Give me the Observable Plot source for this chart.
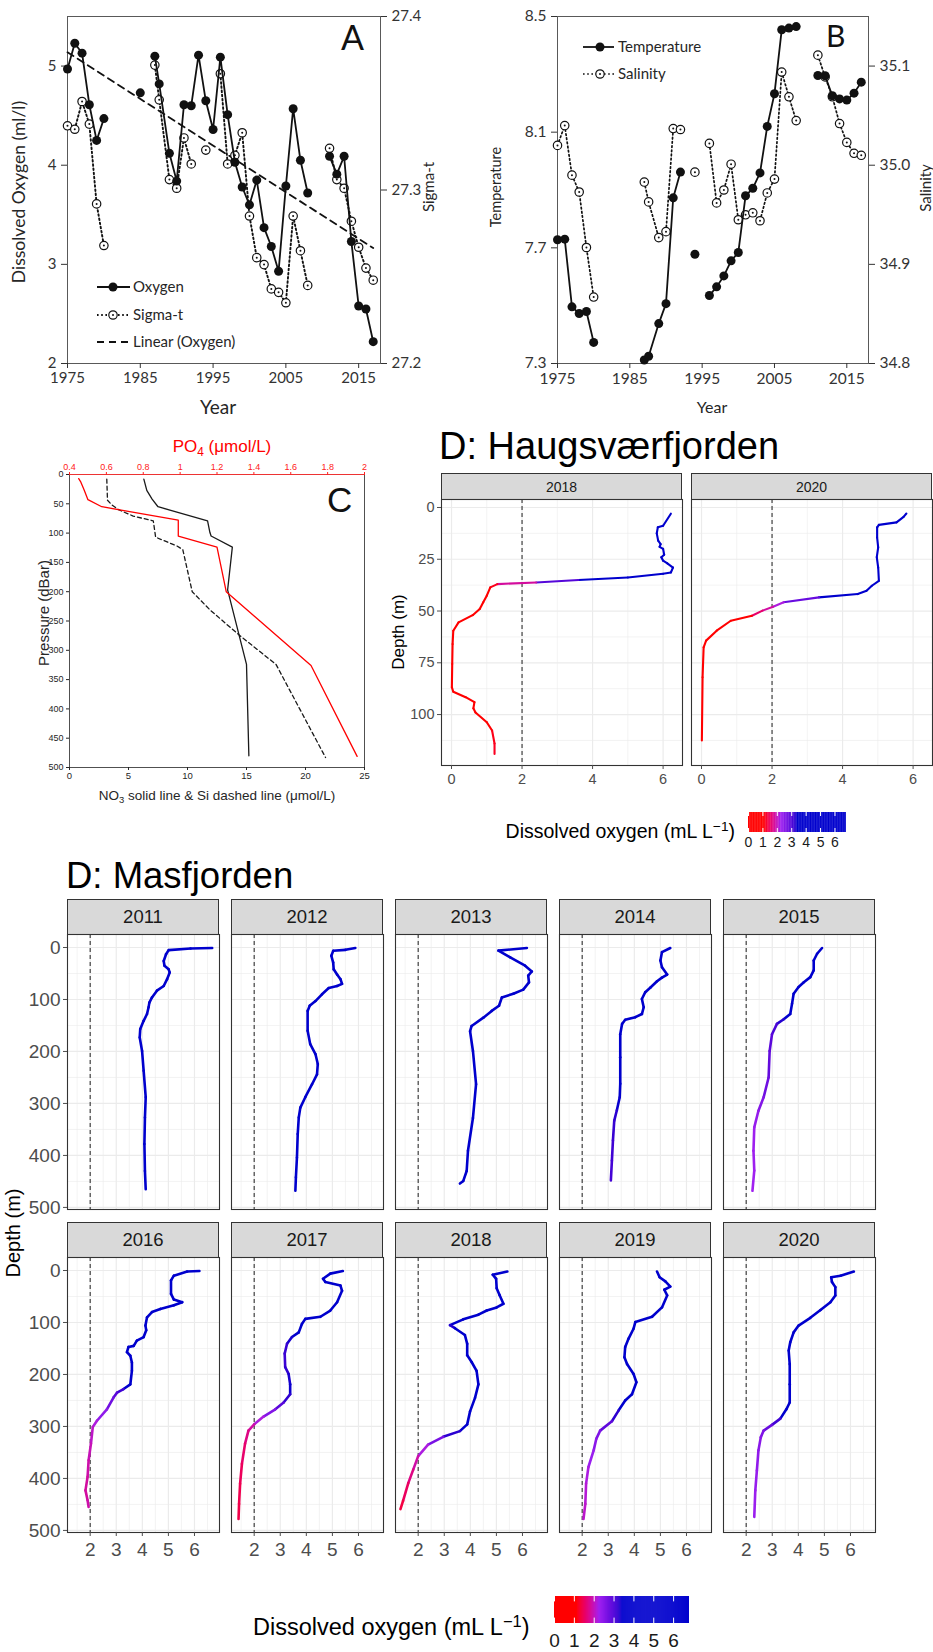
<!DOCTYPE html>
<html><head><meta charset="utf-8">
<script src="https://cdn.jsdelivr.net/npm/d3@7"></script>
<script src="https://cdn.jsdelivr.net/npm/@observablehq/plot@0.6"></script>
<style>
html,body{margin:0;padding:0;background:#fff;}
#page{position:relative;width:933px;height:1652px;overflow:hidden;background:#fff;}
.abs{position:absolute;}
.strip{position:absolute;box-sizing:border-box;background:#d9d9d9;border:1.1px solid #333;font-family:"Liberation Sans",Arial,sans-serif;color:#1a1a1a;display:flex;align-items:center;justify-content:center;}
</style></head>
<body><div id="page"></div>
<script>
// ---------------- DATA ----------------
// Panel A / B : yearly series (null = no observation)
const years = [1975,1976,1977,1978,1979,1980,1981,1982,1983,1984,1985,1986,1987,1987.6,1989,1990,1991,1992,1993,1994,1995,1996,1997,1998,1999,2000,2001,2002,2003,2004,2005,2006,2007,2008,2009,2010,2011,2012,2013,2014,2015,2016,2017];
const oxygen = [4.97,5.23,5.13,4.61,4.25,4.47,null,null,null,null,4.73,null,5.10,4.82,4.12,3.84,4.61,4.60,5.11,4.65,4.36,5.09,4.51,4.03,3.78,3.60,3.85,3.37,3.18,2.93,3.79,4.57,4.05,3.72,null,null,4.09,3.91,4.09,3.23,2.58,2.55,2.22];
const sigmaT = [27.337,27.335,27.351,27.338,27.292,27.268,null,null,null,null,null,null,27.372,27.352,27.306,27.301,27.330,27.315,null,27.323,null,27.367,27.315,27.320,27.333,27.285,27.261,27.257,27.243,27.241,27.235,27.285,27.265,27.245,null,null,27.324,27.306,27.301,27.282,27.267,27.255,27.248];
const temperature = [7.728,7.730,7.496,7.473,7.480,7.373,null,null,null,null,null,null,7.312,7.325,7.438,7.507,7.873,7.962,null,7.678,null,7.535,7.565,7.603,7.655,7.684,7.880,7.906,7.959,8.120,8.233,8.454,8.460,8.465,null,null,8.296,8.295,8.226,8.215,8.211,8.235,8.273];
const salinity = [35.020,35.040,34.990,34.973,34.917,34.867,null,null,null,null,null,null,34.983,34.963,34.927,34.933,35.037,35.036,null,34.993,null,35.022,34.962,34.975,35.001,34.945,34.950,34.952,34.944,34.972,34.986,35.094,35.069,35.045,null,null,35.111,35.089,35.069,35.042,35.023,35.012,35.010];
const yearTicks = [1975,1985,1995,2005,2015];
const oxyTicks = [2,3,4,5];
const sigmaTicks = [27.2,27.3,27.4];
const tempTicks = [7.3,7.7,8.1,8.5];
const salTicks = [34.8,34.9,35.0,35.1];

// Panel C : nutrient profiles
const no3Depth = [8,27,42,55,79,99,105,124,197,324,480];
const no3 = [6.3,6.55,7.0,7.5,11.7,11.9,12.0,13.8,13.4,15.0,15.2];
const siDepth = [8,44,52,60,71,79,107,122,128,200,231,276,324,483];
const si = [3.16,3.22,3.6,4.15,5.4,7.1,7.3,9.1,9.6,10.4,11.9,14.5,17.5,21.7];
const po4Depth = [7,12,27,43,55,78,105,124,200,326,481];
const po4 = [0.45,0.46,0.48,0.50,0.575,0.99,0.99,1.20,1.25,1.71,1.96];
const pressureTicks = [0,50,100,150,200,250,300,350,400,450,500];
const no3Ticks = [0,5,10,15,20,25];
const po4Ticks = [0.4,0.6,0.8,1,1.2,1.4,1.6,1.8,2];

// Panel D : dissolved oxygen profiles (mL/L) and depths (m)
const hau2018_o = [6.22,6.0,5.85,5.82,5.86,5.93,5.9,6.0,6.03,5.95,6.0,6.12,6.28,6.22,6.0,5.0,3.6,2.4,1.3,1.1,1.0,0.9,0.8,0.6,0.2,0.05,0.03,0.02,0.01,0.05,0.4,0.65,0.62,0.68,1.0,1.15,1.22,1.22];
const hau2018_d = [3,8.8,9.6,12.5,16,17.7,19,20,22.8,24,25.7,27,29,31.4,32,33.8,35,36.2,37,38.6,42.6,45.8,49,52,55.5,59.5,66,75.6,86.8,89,91.6,94,97,99,103.7,107.7,114,119];
const hau2020_o = [5.81,5.73,5.53,5.03,4.98,4.98,5.01,4.97,5.01,5.03,4.83,4.68,4.43,3.33,2.33,2.03,1.73,1.43,0.83,0.43,0.13,0.06,0.03,0.01];
const hau2020_d = [2.9,4.5,7.2,8.4,9.6,14.5,19.3,24,29,35.4,37.8,40.2,41.8,43.4,45.8,47.9,49.8,52.3,54.7,59.5,64.3,67.5,82,112.5];

const mas2011_o = [6.68,5.85,5.01,4.91,4.82,4.85,5.01,5.05,4.95,4.82,4.56,4.37,4.27,4.24,4.18,4.05,3.92,3.90,3.99,4.05,4.13,4.10,4.08,4.10,4.13];
const mas2011_d = [1,2,5,13,26,35,42,48,61,74,83,96,106,115,128,141,157,173,199,237,288,327,378,430,465];
const mas2012_o = [5.88,5.50,5.03,4.96,5.03,5.05,5.18,5.31,5.37,5.18,4.86,4.60,4.35,4.13,4.05,4.05,4.15,4.35,4.44,4.41,4.22,3.96,3.77,3.71,3.67,3.64,3.60,3.58];
const mas2012_d = [1,4.5,6.4,16,29,42,52,61,70,74,78,90,103,112,122,160,186,205,224,244,263,288,308,327,359,404,442,468];
const mas2013_o = [6.17,5.08,5.53,6.10,6.36,6.22,6.25,6.03,5.65,5.21,5.10,4.82,4.50,4.05,3.99,4.10,4.22,4.10,3.91,3.86,3.73,3.60];
const mas2013_d = [1,6,19,35,46,54,67,81,89,96,112,122,135,151,161,199,263,328,391,430,449,454];
const mas2014_o = [5.38,5.06,5.00,5.06,5.26,5.06,4.87,4.62,4.42,4.29,4.36,4.29,4.04,3.65,3.53,3.46,3.46,3.46,3.44,3.33,3.23,3.18,3.14,3.10];
const mas2014_d = [1,9,25,38,52,58,65,77,86,99,115,128,134,139,147,167,211,262,288,313,333,371,410,448];
const mas2015_o = [4.91,4.72,4.59,4.59,4.46,4.21,4.01,3.82,3.76,3.69,3.44,3.18,2.99,2.90,2.86,2.67,2.47,2.31,2.28,2.31,2.24];
const mas2015_d = [1,12,25,44,57,67,76,89,108,128,138,147,167,199,250,288,314,346,391,429,468];
const mas2016_o = [6.19,5.72,5.21,5.10,5.10,5.21,5.53,5.21,4.69,4.37,4.18,4.12,4.15,4.05,3.79,3.67,3.47,3.41,3.54,3.60,3.60,3.54,3.28,3.03,2.90,2.64,2.26,2.10,2.03,1.94,1.90,1.82,1.90,1.94];
const mas2016_d = [1,2,10,19,45,56,61,67,74,80,90,106,115,128,135,145,147,157,164,177,193,219,228,235,244,267,289,301,333,365,397,423,442,455];
const mas2017_o = [5.40,4.92,4.64,4.73,5.31,5.37,5.18,4.92,4.54,3.96,3.83,3.71,3.45,3.26,3.17,3.19,3.32,3.38,3.38,3.13,2.81,2.36,2.00,1.78,1.65,1.53,1.46,1.42,1.40];
const mas2017_d = [1,6,16,22,29,39,61,77,89,93,103,119,128,141,160,186,199,219,238,254,267,281,296,308,333,372,410,449,478];
const mas2018_o = [5.42,4.86,4.99,5.01,5.12,5.27,5.01,4.63,4.31,3.73,3.22,3.41,3.79,3.88,3.88,4.05,4.24,4.31,4.18,3.99,3.88,3.60,2.96,2.38,2.00,1.81,1.62,1.42,1.32];
const mas2018_d = [2,8,16,34,47,64,71,77,85,94,105,111,124,141,163,176,193,219,245,271,296,309,320,335,357,383,409,443,459];
const mas2019_o = [4.87,4.97,5.19,5.38,5.15,5.26,5.06,4.68,4.04,3.97,3.78,3.65,3.62,3.72,3.97,4.08,3.91,3.65,3.40,3.14,2.69,2.54,2.44,2.24,2.15,2.12,2.05];
const mas2019_d = [2,13,21,31,37,48,71,89,99,112,131,147,167,180,199,215,238,250,269,290,308,324,346,378,410,449,478];
const mas2020_o = [6.13,5.62,5.26,5.29,5.42,5.42,5.23,4.85,4.46,4.01,3.82,3.69,3.63,3.67,3.67,3.67,3.54,3.31,2.99,2.67,2.56,2.47,2.41,2.35,2.31];
const mas2020_d = [2,10,13,22,32,48,61,76,91,106,119,138,154,180,219,254,267,285,297,308,321,346,385,423,474];

const masYears = ["2011","2012","2013","2014","2015","2016","2017","2018","2019","2020"];
const masProfiles = [[mas2011_o,mas2011_d],[mas2012_o,mas2012_d],[mas2013_o,mas2013_d],[mas2014_o,mas2014_d],[mas2015_o,mas2015_d],[mas2016_o,mas2016_d],[mas2017_o,mas2017_d],[mas2018_o,mas2018_d],[mas2019_o,mas2019_d],[mas2020_o,mas2020_d]];
const hauYears = ["2018","2020"];
const hauProfiles = [[hau2018_o,hau2018_d],[hau2020_o,hau2020_d]];
const hypoxiaThreshold = [2];
const barTicks = [0,1,2,3,4,5,6];

// colour scale for dissolved oxygen
const oxyStops = [0, 1.13, 2.27, 3.4, 6.8];
const oxyColors = ["#ff0000", "#ff0000", "#a020f0", "#0000cd", "#0000cd"];
const colorScale = {type: "linear", domain: oxyStops, range: oxyColors, interpolate: "lab", clamp: true};

// ---------------- HELPERS ----------------
const page = document.getElementById("page");
const ARIAL = "'Liberation Sans', Arial, sans-serif";
const LATO = "Lato, 'Open Sans', sans-serif";
const STYLE = f => `background: transparent; overflow: visible; max-width: none; font-family: ${f};`;
function place(node, left, top) {
  node.style.maxWidth = "none";
  const d = document.createElement("div");
  d.className = "abs";
  d.style.left = left + "px"; d.style.top = top + "px";
  d.appendChild(node);
  page.appendChild(d);
}
const nz = v => (v == null ? NaN : v);

// ---------------- PANEL A ----------------
const rowsA = years.map((y, i) => ({year: y, oxy: oxygen[i], sig: sigmaT[i], temp: temperature[i], sal: salinity[i]}));
const sigToY = s => 2 + (s - 27.2) / 0.2 * 3.5;
const yToSig = v => 27.2 + (v - 2) / 3.5 * 0.2;
const axisCol = "#333";
place(Plot.plot({
  width: 460, height: 420, marginLeft: 67, marginRight: 80, marginTop: 16, marginBottom: 57,
  style: STYLE(LATO),
  x: {domain: [1975, 2018], axis: null},
  y: {domain: [2, 5.5], axis: null},
  marks: [
    Plot.frame({stroke: "#595959", strokeWidth: 1}),
    Plot.axisY(oxyTicks, {tickSize: 6, tickPadding: 5, fontSize: 15, color: axisCol, label: null, tickFormat: d => String(d)}),
    Plot.axisX(yearTicks, {tickSize: 5, tickPadding: 4, fontSize: 15, color: axisCol, label: null, tickFormat: d => String(d)}),
    Plot.axisY(sigmaTicks.map(sigToY), {anchor: "right", tickSize: 6, tickPadding: 5, fontSize: 15, color: axisCol, label: null, tickFormat: d => yToSig(d).toFixed(1)}),
    Plot.linearRegressionY(rowsA.filter(d => d.oxy != null), {x: "year", y: "oxy", stroke: "#111", strokeWidth: 1.8, strokeDasharray: "7,5", ci: 0}),
    Plot.line(rowsA, {x: "year", y: d => d.sig == null ? NaN : sigToY(d.sig), stroke: "#111", strokeWidth: 1.9, strokeDasharray: "1.6,2.6"}),
    Plot.dot(rowsA, {x: "year", y: d => d.sig == null ? NaN : sigToY(d.sig), r: 4.2, fill: "white", stroke: "#111", strokeWidth: 1.2}),
    Plot.dot(rowsA, {x: "year", y: d => d.sig == null ? NaN : sigToY(d.sig), r: 1, fill: "#111"}),
    Plot.line(rowsA, {x: "year", y: d => nz(d.oxy), stroke: "#111", strokeWidth: 1.8}),
    Plot.dot(rowsA, {x: "year", y: d => nz(d.oxy), r: 4.5, fill: "#111"})
  ]
}), 0, 0);

// ---------------- PANEL B ----------------
const salToY = s => 7.3 + (s - 34.8) / 0.35 * 1.2;
const yToSal = v => 34.8 + (v - 7.3) / 1.2 * 0.35;
place(Plot.plot({
  width: 473, height: 420, marginLeft: 97, marginRight: 65, marginTop: 16, marginBottom: 57,
  style: STYLE(LATO),
  x: {domain: [1975, 2018], axis: null},
  y: {domain: [7.3, 8.5], axis: null},
  marks: [
    Plot.frame({stroke: "#595959", strokeWidth: 1}),
    Plot.axisY(tempTicks, {tickSize: 6, tickPadding: 5, fontSize: 15.5, color: axisCol, label: null, tickFormat: d => d.toFixed(1)}),
    Plot.axisX(yearTicks, {tickSize: 5, tickPadding: 4, fontSize: 15.5, color: axisCol, label: null, tickFormat: d => String(d)}),
    Plot.axisY(salTicks.map(salToY), {anchor: "right", tickSize: 6, tickPadding: 5, fontSize: 15.5, color: axisCol, label: null, tickFormat: d => yToSal(d).toFixed(1)}),
    Plot.line(rowsA, {x: "year", y: d => d.sal == null ? NaN : salToY(d.sal), stroke: "#111", strokeWidth: 1.7, strokeDasharray: "1.6,2.6"}),
    Plot.dot(rowsA, {x: "year", y: d => d.sal == null ? NaN : salToY(d.sal), r: 4.2, fill: "white", stroke: "#111", strokeWidth: 1.2}),
    Plot.dot(rowsA, {x: "year", y: d => d.sal == null ? NaN : salToY(d.sal), r: 1, fill: "#111"}),
    Plot.line(rowsA, {x: "year", y: d => nz(d.temp), stroke: "#111", strokeWidth: 1.8}),
    Plot.dot(rowsA, {x: "year", y: d => nz(d.temp), r: 4.5, fill: "#111"})
  ]
}), 460, 0);

// ---------------- PANEL C ----------------
const poToX = p => (p - 0.4) / 1.6 * 25;
const xToPo = x => 0.4 + x / 25 * 1.6;
const no3Rows = no3.map((v, i) => ({v, p: no3Depth[i]}));
const siRows = si.map((v, i) => ({v, p: siDepth[i]}));
const po4Rows = po4.map((v, i) => ({v, p: po4Depth[i]}));
place(Plot.plot({
  width: 380, height: 400, marginLeft: 69, marginRight: 16, marginTop: 64, marginBottom: 43,
  style: STYLE(ARIAL),
  x: {domain: [0, 25], axis: null},
  y: {domain: [0, 500], reverse: true, axis: null},
  marks: [
    Plot.frame({stroke: "#262626", strokeWidth: 0.8}),
    Plot.ruleY([0], {stroke: "#ff3030", strokeWidth: 0.9}),
    Plot.axisY(pressureTicks, {tickSize: 3, tickPadding: 3, fontSize: 9, color: "#262626", label: null}),
    Plot.axisX(no3Ticks, {tickSize: 3, tickPadding: 2, fontSize: 9.5, color: "#262626", label: null}),
    Plot.axisX(po4Ticks.map(poToX), {anchor: "top", tickSize: 3, tickPadding: 2, fontSize: 9, color: "#ff2020", label: null, tickFormat: d => String(+xToPo(d).toFixed(1))}),
    Plot.line(siRows, {x: "v", y: "p", stroke: "#1a1a1a", strokeWidth: 1.3, strokeDasharray: "4,3"}),
    Plot.line(no3Rows, {x: "v", y: "p", stroke: "#1a1a1a", strokeWidth: 1.3}),
    Plot.line(po4Rows, {x: d => poToX(d.v), y: "p", stroke: "#ff0000", strokeWidth: 1.3})
  ]
}), 0, 410);

// ---------------- PROFILE PANELS ----------------
function profile(o, d, cfg) {
  const segs = [];
  for (let i = 0; i < o.length - 1; i++) segs.push({x1: o[i], y1: d[i], x2: o[i + 1], y2: d[i + 1], c: (o[i] + o[i + 1]) / 2});
  const mL = cfg.showY ? 70 : 1, mB = cfg.showX ? 40 : 1, mT = 1, mR = 1;
  const g = {stroke: "#ebebeb", strokeOpacity: 1};
  const marks = [
    Plot.gridX(cfg.xMinor, {...g, strokeWidth: 0.6}),
    Plot.gridY(cfg.yMinor, {...g, strokeWidth: 0.6}),
    Plot.gridX(cfg.xMajor, {...g, strokeWidth: 1.2}),
    Plot.gridY(cfg.yMajor, {...g, strokeWidth: 1.2}),
    Plot.ruleX(hypoxiaThreshold, {stroke: "#333", strokeWidth: 1.1, strokeDasharray: "4,3"}),
    Plot.link(segs, {x1: "x1", y1: "y1", x2: "x2", y2: "y2", stroke: "c", strokeWidth: cfg.lw, strokeLinecap: "round"}),
    Plot.frame({stroke: "#333", strokeWidth: 1.1})
  ];
  if (cfg.showY) marks.push(Plot.axisY(cfg.yMajor, {tickSize: 4, tickPadding: 3, fontSize: cfg.font, color: "#4d4d4d", label: null}));
  if (cfg.showX) marks.push(Plot.axisX(cfg.xMajor, {tickSize: 4, tickPadding: cfg.xPad, fontSize: cfg.font, color: "#4d4d4d", label: null}));
  place(Plot.plot({
    width: cfg.w + mL + mR, height: cfg.h + mT + mB, marginLeft: mL, marginRight: mR, marginTop: mT, marginBottom: mB,
    style: STYLE(ARIAL),
    x: {domain: cfg.xdom, axis: null}, y: {domain: cfg.ydom, reverse: true, axis: null},
    color: colorScale, marks
  }), cfg.left - mL, cfg.top - mT);
}
function strip(label, left, top, w, h, font) {
  const s = document.createElement("div");
  s.className = "strip";
  Object.assign(s.style, {left: left + "px", top: top + "px", width: w + "px", height: h + "px", fontSize: font + "px"});
  s.textContent = label;
  page.appendChild(s);
}
function colorBar(left, top, w, h, font, pad) {
  const cells = d3.range(0, 6.8, 0.05);
  place(Plot.plot({
    width: w + 20, height: h + 34, marginLeft: 10, marginRight: 10, marginTop: 0, marginBottom: 34,
    style: STYLE(ARIAL),
    x: {domain: [0, 6.8], axis: null}, y: {domain: [0, 1], axis: null},
    color: colorScale,
    marks: [
      Plot.rect(cells, {x1: v => v, x2: v => Math.min(v + 0.07, 6.8), y1: () => 0, y2: () => 1, fill: v => v + 0.025}),
      Plot.ruleX(barTicks, {y1: () => 0, y2: () => 0.2, stroke: "white", strokeWidth: 1}),
      Plot.ruleX(barTicks, {y1: () => 0.8, y2: () => 1, stroke: "white", strokeWidth: 1}),
      Plot.axisX(barTicks, {tickSize: 0, tickPadding: pad, fontSize: font, color: "#1a1a1a", label: null})
    ]
  }), left - 10, top);
}

// Haugsværfjorden
const hauLeft = [441, 691];
hauProfiles.forEach(([o, d], i) => {
  strip(hauYears[i], hauLeft[i], 473, 241, 27, 14);
  profile(o, d, {left: hauLeft[i], top: 499, w: 241, h: 266, xdom: [-0.284, 6.55], ydom: [-3.86, 124.6],
    xMajor: [0, 2, 4, 6], xMinor: [1, 3, 5], yMajor: [0, 25, 50, 75, 100], yMinor: [12.5, 37.5, 62.5, 87.5, 112.5],
    showY: i === 0, showX: true, font: 14.5, xPad: 4, lw: 2.1});
});
colorBar(748, 812, 98, 20, 14, 5);

// Masfjorden
const masLeft = [67, 231, 395, 559, 723];
const masStripTop = [899, 1222];
masProfiles.forEach(([o, d], i) => {
  const c = i % 5, r = Math.floor(i / 5);
  strip(masYears[i], masLeft[c], masStripTop[r], 152, 36, 18.5);
  profile(o, d, {left: masLeft[c], top: masStripTop[r] + 35, w: 152, h: 275, xdom: [1.13, 6.96], ydom: [-25, 504],
    xMajor: [2, 3, 4, 5, 6], xMinor: [1.5, 2.5, 3.5, 4.5, 5.5, 6.5], yMajor: [0, 100, 200, 300, 400, 500], yMinor: [50, 150, 250, 350, 450],
    showY: c === 0, showX: r === 1, font: 19, xPad: 6, lw: 2.6});
});
colorBar(554, 1596, 135, 27, 19, 10);

// ---------------- TEXT OVERLAY ----------------
const ov = d3.select(page).append("svg").attr("width", 933).attr("height", 1652)
  .style("position", "absolute").style("left", "0px").style("top", "0px").style("pointer-events", "none");
function txt(x, y, s, o = {}) {
  const t = ov.append("text").attr("x", x).attr("y", y).attr("font-size", o.size || 14)
    .attr("font-family", o.family || ARIAL).attr("fill", o.fill || "#000").attr("text-anchor", o.anchor || "start");
  if (o.rot) t.attr("transform", `rotate(${o.rot},${x},${y})`);
  if (o.html) t.html(s); else t.text(s);
  return t;
}
const ink = "#262626";
// A
txt(25, 192, "Dissolved Oxygen (ml/l)", {size: 17.5, family: LATO, anchor: "middle", rot: -90, fill: ink});
txt(218, 414, "Year", {size: 19, family: LATO, anchor: "middle", fill: ink});
txt(434, 187, "Sigma-t", {size: 15, family: LATO, anchor: "middle", rot: -90, fill: ink});
txt(341, 50, "A", {size: 34, family: LATO, fill: "#111"});
// A legend
const lg = ov.append("g");
lg.append("line").attr("x1", 97).attr("x2", 130).attr("y1", 287).attr("y2", 287).attr("stroke", "#111").attr("stroke-width", 1.8);
lg.append("circle").attr("cx", 113).attr("cy", 287).attr("r", 4.5).attr("fill", "#111");
lg.append("line").attr("x1", 97).attr("x2", 130).attr("y1", 315).attr("y2", 315).attr("stroke", "#111").attr("stroke-width", 1.9).attr("stroke-dasharray", "1.6,2.6");
lg.append("circle").attr("cx", 113).attr("cy", 315).attr("r", 4.2).attr("fill", "white").attr("stroke", "#111").attr("stroke-width", 1.2);
lg.append("circle").attr("cx", 113).attr("cy", 315).attr("r", 1).attr("fill", "#111");
lg.append("line").attr("x1", 97).attr("x2", 130).attr("y1", 342).attr("y2", 342).attr("stroke", "#111").attr("stroke-width", 1.8).attr("stroke-dasharray", "7,5");
txt(133, 292, "Oxygen", {size: 15, family: LATO, fill: ink});
txt(133, 320, "Sigma-t", {size: 15, family: LATO, fill: ink});
txt(133, 347, "Linear (Oxygen)", {size: 15, family: LATO, fill: ink});
// B
txt(501, 187, "Temperature", {size: 14.5, family: LATO, anchor: "middle", rot: -90, fill: ink});
txt(712, 413, "Year", {size: 16, family: LATO, anchor: "middle", fill: ink});
txt(931, 188, "Salinity", {size: 15, family: LATO, anchor: "middle", rot: -90, fill: ink});
txt(826, 47, "B", {size: 30, family: LATO, fill: "#111"});
lg.append("line").attr("x1", 583).attr("x2", 614).attr("y1", 47).attr("y2", 47).attr("stroke", "#111").attr("stroke-width", 1.8);
lg.append("circle").attr("cx", 600).attr("cy", 47).attr("r", 4.5).attr("fill", "#111");
lg.append("line").attr("x1", 583).attr("x2", 614).attr("y1", 74).attr("y2", 74).attr("stroke", "#111").attr("stroke-width", 1.7).attr("stroke-dasharray", "1.6,2.6");
lg.append("circle").attr("cx", 600).attr("cy", 74).attr("r", 4.2).attr("fill", "white").attr("stroke", "#111").attr("stroke-width", 1.2);
lg.append("circle").attr("cx", 600).attr("cy", 74).attr("r", 1).attr("fill", "#111");
txt(618, 52, "Temperature", {size: 15, family: LATO, fill: ink});
txt(618, 79, "Salinity", {size: 15, family: LATO, fill: ink});
// C
txt(222, 452, 'PO<tspan font-size="0.7em" dy="0.3em">4</tspan><tspan dy="-0.21em"> (μmol/L)</tspan>', {size: 17, anchor: "middle", fill: "#ff0000", html: true});
txt(49, 613, "Pressure (dBar)", {size: 15, anchor: "middle", rot: -90, fill: ink});
txt(217, 800, 'NO<tspan font-size="0.7em" dy="0.3em">3</tspan><tspan dy="-0.21em"> solid line &amp; Si dashed line (μmol/L)</tspan>', {size: 13.5, anchor: "middle", fill: ink, html: true});
txt(327, 512, "C", {size: 35, fill: "#111"});
// D Haugsværfjorden
txt(439, 459, "D: Haugsværfjorden", {size: 38, fill: "#000"});
txt(404, 632, "Depth (m)", {size: 17, anchor: "middle", rot: -90, fill: "#000"});
txt(735, 838, 'Dissolved oxygen (mL L<tspan font-size="0.7em" dy="-0.5em">−1</tspan><tspan dy="0.35em">)</tspan>', {size: 19.5, anchor: "end", fill: "#000", html: true});
// D Masfjorden
txt(66, 888, "D: Masfjorden", {size: 36.5, fill: "#000"});
txt(20, 1233, "Depth (m)", {size: 20, anchor: "middle", rot: -90, fill: "#000"});
txt(253, 1635, 'Dissolved oxygen (mL L<tspan font-size="0.7em" dy="-0.5em">−1</tspan><tspan dy="0.35em">)</tspan>', {size: 23.5, fill: "#000", html: true});
</script></body></html>
